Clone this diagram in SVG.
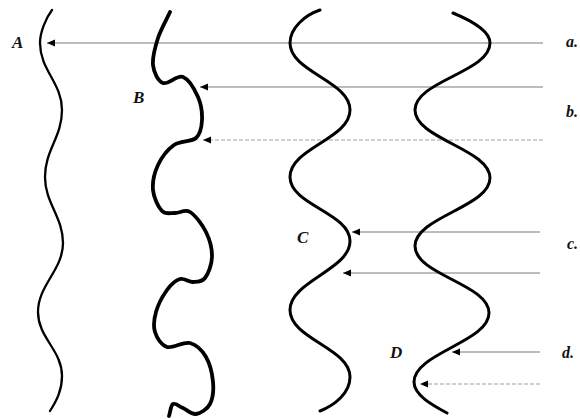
<svg xmlns="http://www.w3.org/2000/svg" width="580" height="419" viewBox="0 0 580 419">
<style>
.wave{fill:none;stroke:#000;stroke-linecap:round;stroke-linejoin:round}
.thin{stroke-width:2.3}
.thick{stroke-width:3.8}
.mid{stroke-width:3}
.ln{stroke:#7a7a7a;stroke-width:1.1;fill:none}
.lt{stroke:#a0a0a0;stroke-width:1.1;fill:none;stroke-dasharray:4 2}
.lbl{font-family:"Liberation Serif",serif;font-style:italic;font-weight:bold;font-size:17px;fill:#111}
.sm{font-family:"Liberation Serif",serif;font-style:italic;font-weight:bold;font-size:16px;fill:#111}
</style>
<defs>
<marker id="ah" markerUnits="userSpaceOnUse" markerWidth="9" markerHeight="8" refX="8" refY="3.5" orient="auto">
<path d="M0,0 L8,3.5 L0,7 z" fill="#000"/>
</marker>
</defs>
<g id="connectors">
<line class="ln" x1="543" y1="43" x2="47" y2="43" marker-end="url(#ah)"/>
<line class="ln" x1="543" y1="87" x2="200" y2="87" marker-end="url(#ah)"/>
<line class="lt" x1="543" y1="140" x2="203" y2="140" marker-end="url(#ah)"/>
<line class="ln" x1="540" y1="232" x2="352" y2="232" marker-end="url(#ah)"/>
<line class="ln" x1="540" y1="273" x2="343" y2="273" marker-end="url(#ah)"/>
<line class="ln" x1="540" y1="352" x2="452" y2="352" marker-end="url(#ah)"/>
<line class="lt" x1="540" y1="384" x2="420" y2="384" marker-end="url(#ah)"/>
</g>
<g id="wave-A">
<path class="wave thin" d="M52,10 C46,18 40,32 40,43 C40,70 62,83 62,110 C62,137 45,150 45,177 C45,203 63,217 63,243 C63,270 38,285 38,312 C38,338 62,350 62,376 C62,390 57,400 50,411"/>
<text class="lbl" x="12" y="48">A</text>
</g>
<g id="wave-B">
<path class="wave thick" d="M170,12 C166,20.7 160.8,29.2 158,38 C155.2,46.8 152.2,57.5 153,65 C153.8,72.5 158,81 163,83 C168,85 177.2,74.7 183,77 C188.8,79.3 194.8,89.8 198,97 C201.2,104.2 202.3,113.2 202,120 C201.7,126.8 200.7,133.8 196,138 C191.3,142.2 180.3,140.5 174,145 C167.7,149.5 161.5,157.5 158,165 C154.5,172.5 152.3,182.3 153,190 C153.7,197.7 158.3,207.2 162,211 C165.7,214.8 170.3,212.8 175,213 C179.7,213.2 184.8,208.8 190,212 C195.2,215.2 202.3,224.5 206,232 C209.7,239.5 212.2,249.3 212,257 C211.8,264.7 208.2,273.8 205,278 C201.8,282.2 197.2,281.8 193,282 C188.8,282.2 184.3,277.7 180,279 C175.7,280.3 171,284.5 167,290 C163,295.5 158,305 156,312 C154,319 153.2,326.2 155,332 C156.8,337.8 161.2,345.2 167,347 C172.8,348.8 183.5,341.3 190,343 C196.5,344.7 202.2,350.5 206,357 C209.8,363.5 212.3,374.2 213,382 C213.7,389.8 212.8,398.7 210,404 C207.2,409.3 200.5,413.3 196,414 C191.5,414.7 186.8,409.7 183,408 C179.2,406.3 175.3,402.7 173,404 C170.7,405.3 170.3,412 169,416"/>
<text class="lbl" x="133" y="103">B</text>
</g>
<g id="wave-C">
<path class="wave mid" d="M320,10 C305,15 290,28 290,43 C290,72 350,81 350,110 C350,139 290,148 290,177 C290,205 350,213 350,241 C350,270 290,281 290,310 C290,339 350,348 350,377 C350,393 335,405 320,411"/>
<text class="lbl" x="297" y="243">C</text>
</g>
<g id="wave-D">
<path class="wave mid" d="M453,13 C470,20 490,30 490,43 C490,72 415,81 415,110 C415,139 490,149 490,178 C490,207 415,217 415,246 C415,275 489,284 489,313 C489,342 414,353 414,382 C414,395 432,405 447,413"/>
<text class="lbl" x="390" y="358">D</text>
</g>
<g id="side-labels">
<text class="sm" x="566" y="47">a.</text>
<text class="sm" x="566" y="117">b.</text>
<text class="sm" x="567" y="249">c.</text>
<text class="sm" x="562" y="358">d.</text>
</g>
</svg>
